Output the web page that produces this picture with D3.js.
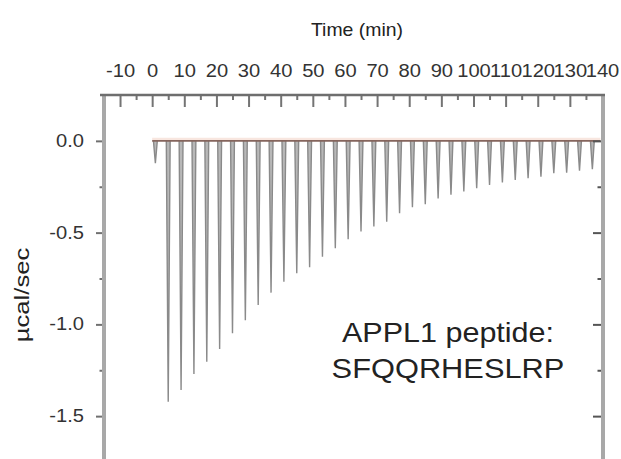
<!DOCTYPE html>
<html>
<head>
<meta charset="utf-8">
<script src="https://cdn.jsdelivr.net/npm/d3@7"></script>
<style>
  body { margin: 0; background: #fff; }
  svg { display: block; font-family: "Liberation Sans", Arial, sans-serif; }
</style>
</head>
<body>
<svg width="621" height="459"></svg>
<script>
// ---- data ----
var injTimes = [1, 5, 9, 13, 17, 21, 25, 29, 33, 37, 41, 45, 49, 53, 57, 61, 65, 69,
                73, 77, 81, 85, 89, 93, 97, 101, 105, 109, 113, 117, 121, 125, 129, 133, 137];
var peakHeights = [-0.122, -1.421, -1.357, -1.270, -1.203, -1.134, -1.048, -0.978, -0.894,
                   -0.827, -0.767, -0.721, -0.689, -0.631, -0.585, -0.536, -0.494, -0.467,
                   -0.440, -0.394, -0.361, -0.345, -0.314, -0.294, -0.276, -0.258, -0.240,
                   -0.227, -0.213, -0.203, -0.195, -0.176, -0.173, -0.162, -0.154];
var runStart = 0, runEnd = 139.5;

var xMajor = [-10, 0, 10, 20, 30, 40, 50, 60, 70, 80, 90, 100, 110, 120, 130, 140];
var xMinor = [-5, 5, 15, 25, 35, 45, 55, 65, 75, 85, 95, 105, 115, 125, 135];
var yMajor = [0, -0.5, -1.0, -1.5];
var yMinor = [-0.25, -0.75, -1.25];

var svg = d3.select('svg');

// ---- scales ----
var x = d3.scaleLinear().domain([-15.3, 140]).range([103, 602]);
var y = d3.scaleLinear().domain([0.25, -1.75]).range([95, 462]);

// stretch text a bit wider, the original font runs wide
function stretch(sel, k) {
    sel.each(function() {
        var w = this.getComputedTextLength();
        d3.select(this).attr('textLength', w * k).attr('lengthAdjust', 'spacingAndGlyphs');
    });
}

// ---- baseline halo ----
svg.append('line')
    .attr('x1', x(runStart)).attr('x2', x(runEnd))
    .attr('y1', y(0) - 2).attr('y2', y(0) - 2)
    .attr('stroke', '#f8e6df').attr('stroke-width', 2.5);

// ---- peaks ----
var peakLine = d3.line().x(function(d) { return x(d[0]); }).y(function(d) { return y(d[1]); });
var peaks = injTimes.map(function(t, i) {
    var h = peakHeights[i];
    return [[t - 0.6, 0], [t, h], [t + 0.6, 0]];
});
svg.append('g').selectAll('path')
    .data(peaks)
    .enter()
    .append('path')
    .attr('d', peakLine)
    .attr('fill', '#b8b8b8')
    .attr('stroke', '#8a8a8a')
    .attr('stroke-width', 1.4)
    .attr('stroke-linejoin', 'miter');

svg.append('line')
    .attr('x1', x(runStart)).attr('x2', x(runEnd))
    .attr('y1', y(0)).attr('y2', y(0))
    .attr('stroke', '#85655d').attr('stroke-width', 1.6);

// ---- axes ----
var topAxis = svg.append('g').attr('transform', 'translate(0,95)')
    .call(d3.axisTop(x).tickValues(xMajor).tickSize(-12).tickPadding(18)
        .tickFormat(function(d) { return String(d); }));
topAxis.select('.domain').remove();
topAxis.selectAll('line').attr('stroke', '#747474').attr('stroke-width', 2);
topAxis.selectAll('text').attr('font-size', 17.5).attr('fill', '#333');

var topMinor = svg.append('g').attr('transform', 'translate(0,95)')
    .call(d3.axisTop(x).tickValues(xMinor).tickSize(-5).tickFormat(''));
topMinor.select('.domain').remove();
topMinor.selectAll('line').attr('stroke', '#747474').attr('stroke-width', 2);

var leftAxis = svg.append('g').attr('transform', 'translate(103,0)')
    .call(d3.axisLeft(y).tickValues(yMajor).tickSize(7).tickPadding(12)
        .tickFormat(function(d) { return d.toFixed(1); }));
leftAxis.select('.domain').remove();
leftAxis.selectAll('line').attr('stroke', '#707070').attr('stroke-width', 2);
leftAxis.selectAll('text').attr('font-size', 17.5).attr('fill', '#333');

var leftMinor = svg.append('g').attr('transform', 'translate(103,0)')
    .call(d3.axisLeft(y).tickValues(yMinor).tickSize(3.5).tickFormat(''));
leftMinor.select('.domain').remove();
leftMinor.selectAll('line').attr('stroke', '#707070').attr('stroke-width', 2);

var rightAxis = svg.append('g').attr('transform', 'translate(602,0)')
    .call(d3.axisLeft(y).tickValues(yMajor).tickSize(9).tickFormat(''));
rightAxis.select('.domain').remove();
rightAxis.selectAll('line').attr('stroke', '#555').attr('stroke-width', 2);

var rightMinor = svg.append('g').attr('transform', 'translate(602,0)')
    .call(d3.axisLeft(y).tickValues(yMinor).tickSize(4.5).tickFormat(''));
rightMinor.select('.domain').remove();
rightMinor.selectAll('line').attr('stroke', '#555').attr('stroke-width', 2);

// ---- frame ----
svg.append('line').attr('x1', 104).attr('x2', 104).attr('y1', 94).attr('y2', 470)
    .attr('stroke', '#a8a8a8').attr('stroke-width', 4);
svg.append('line').attr('x1', 603).attr('x2', 603).attr('y1', 94).attr('y2', 470)
    .attr('stroke', '#a8a8a8').attr('stroke-width', 4);
svg.append('line').attr('x1', 100).attr('x2', 605).attr('y1', 95).attr('y2', 95)
    .attr('stroke', '#6e6e6e').attr('stroke-width', 2.5);

stretch(topAxis.selectAll('text'), 1.15);
stretch(leftAxis.selectAll('text'), 1.15);

// ---- labels ----
svg.append('text')
    .attr('x', 357).attr('y', 36)
    .attr('text-anchor', 'middle')
    .attr('font-size', 18.5).attr('fill', '#222')
    .text('Time (min)')
    .call(stretch, 1.05);

svg.append('text')
    .attr('transform', 'translate(29,295) rotate(-90)')
    .attr('text-anchor', 'middle')
    .attr('font-size', 21).attr('fill', '#222')
    .text('µcal/sec')
    .call(stretch, 1.22);

svg.append('text')
    .attr('x', 448).attr('y', 341.5)
    .attr('text-anchor', 'middle')
    .attr('font-size', 28).attr('fill', '#222')
    .text('APPL1 peptide:')
    .call(stretch, 1.09);

svg.append('text')
    .attr('x', 448).attr('y', 378)
    .attr('text-anchor', 'middle')
    .attr('font-size', 28).attr('fill', '#222')
    .text('SFQQRHESLRP')
    .call(stretch, 1.1);
</script>
</body>
</html>
